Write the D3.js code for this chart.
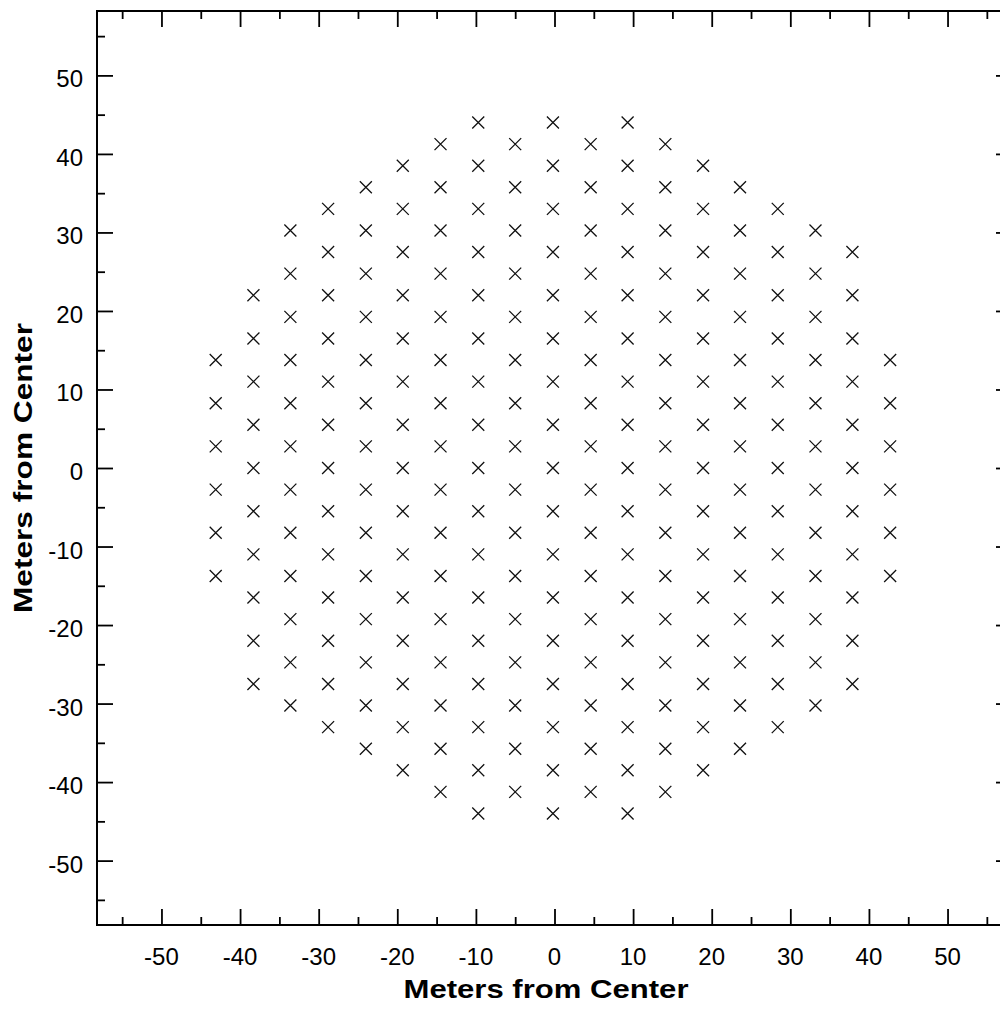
<!DOCTYPE html>
<html>
<head>
<meta charset="utf-8">
<script src="https://cdn.jsdelivr.net/npm/d3@7"></script>
<style>
  html, body { margin: 0; padding: 0; background: #fff; }
  svg { display: block; }
</style>
</head>
<body>
<svg id="chart" width="1000" height="1013"></svg>
<script>
// Column x positions (meters) of the hexagonal grid
const colX = [-43.1, -38.3, -33.6, -28.8, -24.0, -19.3, -14.5, -9.7, -5.0, -0.2,
              4.6, 9.3, 14.1, 18.9, 23.6, 28.4, 33.2, 37.9, 42.7];
// y values (meters) present in each column
const colY = [
  [13.75, 8.25, 2.75, -2.75, -8.25, -13.75],
  [22, 16.5, 11, 5.5, 0, -5.5, -11, -16.5, -22, -27.5],
  [30.25, 24.75, 19.25, 13.75, 8.25, 2.75, -2.75, -8.25, -13.75, -19.25, -24.75, -30.25],
  [33, 27.5, 22, 16.5, 11, 5.5, 0, -5.5, -11, -16.5, -22, -27.5, -33],
  [35.75, 30.25, 24.75, 19.25, 13.75, 8.25, 2.75, -2.75, -8.25, -13.75, -19.25, -24.75, -30.25, -35.75],
  [38.5, 33, 27.5, 22, 16.5, 11, 5.5, 0, -5.5, -11, -16.5, -22, -27.5, -33, -38.5],
  [41.25, 35.75, 30.25, 24.75, 19.25, 13.75, 8.25, 2.75, -2.75, -8.25, -13.75, -19.25, -24.75, -30.25, -35.75, -41.25],
  [44, 38.5, 33, 27.5, 22, 16.5, 11, 5.5, 0, -5.5, -11, -16.5, -22, -27.5, -33, -38.5, -44],
  [41.25, 35.75, 30.25, 24.75, 19.25, 13.75, 8.25, 2.75, -2.75, -8.25, -13.75, -19.25, -24.75, -30.25, -35.75, -41.25],
  [44, 38.5, 33, 27.5, 22, 16.5, 11, 5.5, 0, -5.5, -11, -16.5, -22, -27.5, -33, -38.5, -44],
  [41.25, 35.75, 30.25, 24.75, 19.25, 13.75, 8.25, 2.75, -2.75, -8.25, -13.75, -19.25, -24.75, -30.25, -35.75, -41.25],
  [44, 38.5, 33, 27.5, 22, 16.5, 11, 5.5, 0, -5.5, -11, -16.5, -22, -27.5, -33, -38.5, -44],
  [41.25, 35.75, 30.25, 24.75, 19.25, 13.75, 8.25, 2.75, -2.75, -8.25, -13.75, -19.25, -24.75, -30.25, -35.75, -41.25],
  [38.5, 33, 27.5, 22, 16.5, 11, 5.5, 0, -5.5, -11, -16.5, -22, -27.5, -33, -38.5],
  [35.75, 30.25, 24.75, 19.25, 13.75, 8.25, 2.75, -2.75, -8.25, -13.75, -19.25, -24.75, -30.25, -35.75],
  [33, 27.5, 22, 16.5, 11, 5.5, 0, -5.5, -11, -16.5, -22, -27.5, -33],
  [30.25, 24.75, 19.25, 13.75, 8.25, 2.75, -2.75, -8.25, -13.75, -19.25, -24.75, -30.25],
  [27.5, 22, 16.5, 11, 5.5, 0, -5.5, -11, -16.5, -22, -27.5],
  [13.75, 8.25, 2.75, -2.75, -8.25, -13.75]
];
const majorTicks = [-50, -40, -30, -20, -10, 0, 10, 20, 30, 40, 50];
const minorTicks = [-55, -45, -35, -25, -15, -5, 5, 15, 25, 35, 45, 55];
const axisTitle = "Meters from Center";

(function () {
  const points = [];
  colX.forEach((x, i) => colY[i].forEach(y => points.push({ x, y })));

  const svg = d3.select("#chart");
  const pL = 97, pR = 1012, pT = 11, pB = 925;
  const domain = [-58.2, 58.2];
  const x = d3.scaleLinear().domain(domain).range([pL, pR]);
  const y = d3.scaleLinear().domain(domain).range([pB, pT]);

  const font = "'Liberation Sans', Arial, Helvetica, sans-serif";
  const majorLen = 16, minorLen = 8;

  // Frame
  svg.append("rect")
    .attr("x", pL).attr("y", pT)
    .attr("width", pR - pL).attr("height", pB - pT)
    .attr("fill", "none").attr("stroke", "#000").attr("stroke-width", 2);

  // Ticks inward on all four sides
  function tickAxes(vals, len) {
    svg.append("g").attr("transform", `translate(0,${pB})`)
      .call(d3.axisTop(x).tickValues(vals).tickSize(len).tickFormat(""));
    svg.append("g").attr("transform", `translate(0,${pT})`)
      .call(d3.axisBottom(x).tickValues(vals).tickSize(len).tickFormat(""));
    svg.append("g").attr("transform", `translate(${pL},0)`)
      .call(d3.axisRight(y).tickValues(vals).tickSize(len).tickFormat(""));
    svg.append("g").attr("transform", `translate(${pR},0)`)
      .call(d3.axisLeft(y).tickValues(vals).tickSize(len).tickFormat(""));
  }
  tickAxes(majorTicks, majorLen);
  tickAxes(minorTicks, minorLen);
  svg.selectAll(".domain").remove();
  svg.selectAll(".tick line").attr("stroke", "#000").attr("stroke-width", 1.8);

  // Tick labels
  svg.append("g").selectAll("text").data(majorTicks).join("text")
    .attr("x", d => x(d)).attr("y", 965)
    .attr("text-anchor", "middle")
    .attr("font-family", font).attr("font-size", 24).attr("fill", "#000")
    .text(d => d);
  svg.append("g").selectAll("text").data(majorTicks).join("text")
    .attr("x", 83).attr("y", d => y(d) + 12)
    .attr("text-anchor", "end")
    .attr("font-family", font).attr("font-size", 24).attr("fill", "#000")
    .text(d => d);

  // Axis titles
  svg.append("text")
    .attr("x", 546).attr("y", 998)
    .attr("text-anchor", "middle")
    .attr("font-family", font).attr("font-size", 26).attr("font-weight", "bold")
    .attr("textLength", 285).attr("lengthAdjust", "spacingAndGlyphs")
    .text(axisTitle);
  svg.append("text")
    .attr("transform", `translate(32,468) rotate(-90)`)
    .attr("text-anchor", "middle")
    .attr("font-family", font).attr("font-size", 26).attr("font-weight", "bold")
    .attr("textLength", 290).attr("lengthAdjust", "spacingAndGlyphs")
    .text(axisTitle);

  // Markers
  svg.append("g").selectAll("path").data(points).join("path")
    .attr("transform", d => `translate(${x(d.x)},${y(d.y)})`)
    .attr("d", "M-6,-6L6,6M-6,6L6,-6")
    .attr("stroke", "#111").attr("stroke-width", 1.3).attr("fill", "none");
})();
</script>
</body>
</html>
